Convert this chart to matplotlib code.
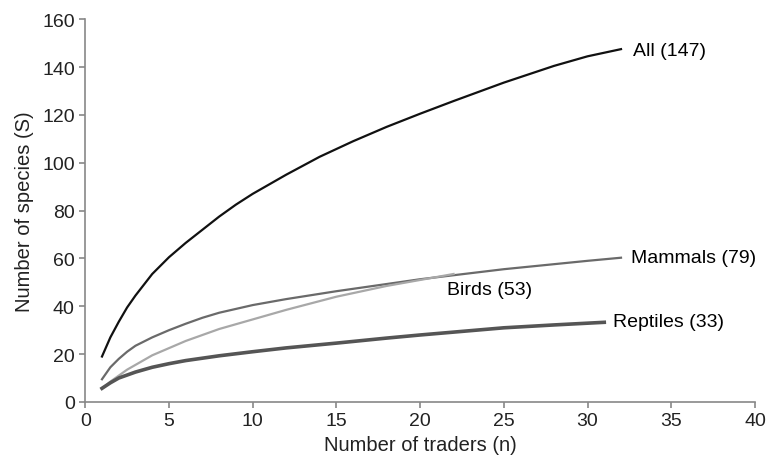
import matplotlib
matplotlib.use('Agg')
import matplotlib.pyplot as plt

plt.rcParams['font.family'] = ['Liberation Sans', 'DejaVu Sans']

# traders (n) and species counts
n_all = [1, 1.5, 2, 2.5, 3, 4, 5, 6, 7, 8, 9, 10, 12, 14, 16, 18, 20, 22, 25, 28, 30, 32]
s_all = [19, 27, 33.5, 39.5, 44.5, 53.5, 60.5, 66.5, 72, 77.5, 82.5, 87, 95, 102.5, 109,
         115, 120.5, 125.8, 133.5, 140.5, 144.5, 147.5]

n_mammals = [1, 1.5, 2, 2.5, 3, 4, 5, 6, 7, 8, 10, 12, 15, 18, 20, 25, 30, 32]
s_mammals = [9.5, 14.5, 18, 21, 23.5, 27, 30, 32.7, 35.2, 37.3, 40.5, 43, 46.3, 49.3,
             51.3, 55.5, 59, 60.3]

n_birds = [1, 1.5, 2, 2.5, 3, 4, 5, 6, 7, 8, 10, 12, 15, 18, 20, 22]
s_birds = [5.5, 8.5, 11, 13.5, 15.5, 19.5, 22.5, 25.5, 28, 30.5, 34.5, 38.5, 44, 48.5, 51, 53.5]

n_reptiles = [1, 1.5, 2, 3, 4, 5, 6, 8, 10, 12, 15, 18, 20, 25, 28, 31]
s_reptiles = [5.7, 8, 10, 12.5, 14.5, 16, 17.3, 19.3, 21, 22.6, 24.6, 26.7, 28, 31, 32.2, 33.3]

labels = ['All (147)', 'Mammals (79)', 'Birds (53)', 'Reptiles (33)']

fig = plt.figure(figsize=(7.68, 4.6), dpi=100)
ax = fig.add_axes([0.111, 0.124, 0.872, 0.832])

ax.plot(n_all, s_all, color='#111111', lw=1.6)
ax.plot(n_mammals, s_mammals, color='#6a6a6a', lw=1.6)
ax.plot(n_birds, s_birds, color='#a8a8a8', lw=1.6)
ax.plot(n_reptiles, s_reptiles, color='#555555', lw=2.6)

ax.text(32.7, 147, labels[0], fontsize=14, va='center', ha='left')
ax.text(32.6, 60.5, labels[1], fontsize=14, va='center', ha='left')
ax.text(21.6, 47, labels[2], fontsize=14, va='center', ha='left')
ax.text(31.5, 33.5, labels[3], fontsize=14, va='center', ha='left')

ax.set_xlim(0, 40)
ax.set_ylim(0, 160)
ax.set_xticks(range(0, 41, 5))
ax.set_yticks(range(0, 161, 20))
ax.spines['top'].set_visible(False)
ax.spines['right'].set_visible(False)
for s in ['left', 'bottom']:
    ax.spines[s].set_color('#888888')
    ax.spines[s].set_linewidth(1.2)
ax.tick_params(colors='#888888', labelcolor='#222222', labelsize=14, length=4, width=1.2)

ax.set_xlabel('Number of traders (n)', fontsize=14.5, color='#222222', labelpad=4)
ax.set_ylabel('Number of species (S)', fontsize=14.5, color='#222222', labelpad=6)

fig.savefig('out.png', dpi=100)
